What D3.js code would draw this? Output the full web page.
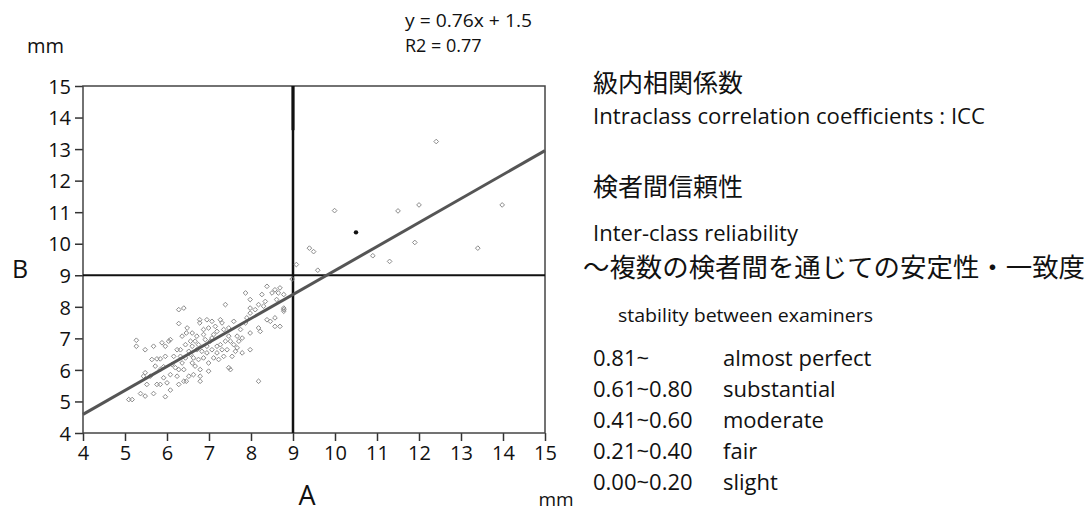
<!DOCTYPE html>
<html>
<head>
<meta charset="utf-8">
<script src="https://cdn.jsdelivr.net/npm/d3@7"></script>
<style>
  body { margin: 0; background: #fff; }
  svg { display: block; }
</style>
</head>
<body>
<svg id="chart" width="1090" height="515"></svg>
<script>
// ---- data ----
const xTicks = [4, 5, 6, 7, 8, 9, 10, 11, 12, 13, 14, 15];
const yTicks = [4, 5, 6, 7, 8, 9, 10, 11, 12, 13, 14, 15];
const refX = 9;
const refY = 9;
const fitSlope = 0.76;
const fitIntercept = 1.55;
const fitLabel = "y = 0.76x + 1.5";
const r2Label = "R2 = 0.77";

// A, B measurements (mm)
const pointsA = [
  5.27, 5.27, 5.48, 5.68, 5.88, 5.96, 6.04, 6.08, 5.64, 5.76, 5.84, 5.96, 5.72, 5.92, 5.48, 5.60,
  5.52, 5.76, 5.84, 6.00, 6.08, 5.37, 5.48, 5.68, 5.96, 5.09, 5.17, 5.84, 5.44,
  6.28, 6.40, 6.28, 6.48, 6.46, 6.36, 6.60, 6.71, 6.67, 6.60, 6.44, 6.32, 6.52, 6.32, 6.44, 6.63,
  6.60, 6.75, 6.67, 6.79, 6.20, 6.28, 6.40, 6.52, 6.63, 6.40, 6.46, 6.28, 6.79, 6.99,
  6.78, 6.78, 6.95, 7.07, 6.87, 6.99, 7.15, 7.27, 7.31, 7.19, 7.35, 7.47, 7.59, 6.91, 7.03, 6.95,
  7.07, 7.19, 7.27, 7.39, 7.47, 7.51, 7.59, 7.31, 7.19, 7.43, 6.95, 6.87, 6.83, 7.07, 7.39, 7.47,
  7.51, 7.67, 7.71, 7.79, 7.67, 7.79, 7.75, 7.87, 7.90, 7.87, 7.98, 7.98, 7.98, 7.98, 7.98, 8.18,
  8.22, 8.18, 8.26, 8.38, 8.34, 8.50, 8.57, 8.65, 8.69, 8.61, 8.38, 8.46, 8.57, 8.57, 8.69, 8.78,
  8.78, 8.18, 8.10, 8.30,
  6.75, 7.11, 7.23, 7.35, 6.99, 6.71, 6.56, 6.36, 6.16, 6.24, 7.63, 7.55, 7.11, 6.87, 6.56, 6.79,
  6.24, 6.08, 5.92, 6.12,
  8.78, 8.78, 8.98, 9.08, 9.59, 9.39, 9.49, 10.9, 11.3, 11.9, 13.4, 9.99, 11.5, 12.0, 13.98, 12.41
];
const pointsB = [
  6.94, 6.75, 6.64, 6.75, 6.86, 6.75, 6.91, 6.96, 6.33, 6.35, 6.35, 6.43, 6.12, 6.10, 5.91, 5.80,
  5.54, 5.54, 5.54, 5.59, 5.36, 5.25, 5.17, 5.25, 5.15, 5.06, 5.06, 6.01, 5.80,
  7.91, 7.96, 7.47, 7.33, 7.17, 7.07, 7.17, 7.07, 6.91, 6.75, 6.80, 6.64, 6.59, 6.43, 6.38, 6.38,
  6.22, 6.33, 6.12, 6.01, 6.07, 6.01, 6.01, 5.80, 5.85, 5.64, 5.64, 5.54, 5.64, 5.96,
  7.59, 7.49, 7.59, 7.54, 7.28, 7.33, 7.38, 7.59, 7.49, 7.22, 7.28, 7.33, 7.54, 6.96, 6.91, 6.75,
  6.64, 6.75, 6.80, 6.91, 7.07, 6.91, 6.80, 6.64, 6.54, 6.64, 6.54, 6.38, 6.59, 7.01, 8.07, 6.07,
  6.01, 7.07, 6.91, 7.01, 6.70, 6.54, 7.28, 7.49, 7.65, 8.44, 8.23, 7.96, 7.80, 7.17, 6.64, 7.33,
  7.22, 5.64, 8.39, 8.65, 8.17, 8.44, 8.54, 8.44, 8.60, 8.23, 7.59, 7.54, 7.65, 7.38, 7.38, 7.96,
  7.86, 8.07, 7.91, 8.02,
  6.80, 6.38, 6.33, 6.43, 6.22, 6.64, 6.49, 6.22, 6.43, 6.64, 6.59, 6.43, 7.12, 7.12, 6.91, 5.80,
  5.80, 5.85, 5.75, 6.17,
  7.91, 8.39, 8.88, 9.34, 9.16, 9.86, 9.75, 9.62, 9.44, 10.04, 9.86, 11.05, 11.04, 11.23, 11.23, 13.24
];
const highlightA = [10.5];
const highlightB = [10.36];

const headingICC = "級内相関係数";
const subICC = "Intraclass correlation coefficients : ICC";
const headingRel = "検者間信頼性";
const subRel = "Inter-class reliability";
const jpRel = "～複数の検者間を通じての安定性・一致度";
const enRel = "stability between examiners";
const iccRanges = ["0.81~", "0.61~0.80", "0.41~0.60", "0.21~0.40", "0.00~0.20"];
const iccLabels = ["almost perfect", "substantial", "moderate", "fair", "slight"];

// ---- layout ----
const plot = { left: 83, right: 545, top: 86, bottom: 433 };
const latin = "'Open Sans', 'Noto Sans', sans-serif";
const cjk = "'Noto Sans CJK JP', sans-serif";
const ink = "#111";

const svg = d3.select("#chart");
svg.append("rect").attr("width", 1090).attr("height", 515).attr("fill", "#fff");

const x = d3.scaleLinear().domain([4, 15]).range([plot.left, plot.right]);
const y = d3.scaleLinear().domain([4, 15]).range([plot.bottom, plot.top]);

// axes
const yAxis = d3.axisLeft(y).tickValues(yTicks).tickSize(8).tickPadding(4).tickFormat(d3.format("d"));
const xAxis = d3.axisBottom(x).tickValues(xTicks).tickSize(8).tickPadding(5).tickFormat(d3.format("d"));

const gy = svg.append("g").attr("transform", `translate(${plot.left},0)`).call(yAxis);
const gx = svg.append("g").attr("transform", `translate(0,${plot.bottom})`).call(xAxis);

[gx, gy].forEach(g => {
    g.select(".domain").remove();
    g.selectAll(".tick line").attr("stroke", "#333").attr("stroke-width", 1.5);
    g.selectAll(".tick text")
        .attr("fill", ink)
        .style("font-family", latin)
        .style("font-size", "20px");
});
gy.selectAll(".tick text").attr("dy", "0.36em");

// frame
svg.append("rect")
    .attr("x", plot.left).attr("y", plot.top)
    .attr("width", plot.right - plot.left).attr("height", plot.bottom - plot.top)
    .attr("fill", "none").attr("stroke", "#444").attr("stroke-width", 1.5);

// reference lines (upper stretch of the vertical one prints a bit heavier)
svg.append("line")
    .attr("x1", x(refX)).attr("x2", x(refX))
    .attr("y1", y(15)).attr("y2", y(4))
    .attr("stroke", "#111").attr("stroke-width", 2.5);
svg.append("line")
    .attr("x1", x(refX)).attr("x2", x(refX))
    .attr("y1", y(15)).attr("y2", y(13.6))
    .attr("stroke", "#111").attr("stroke-width", 3);
svg.append("line")
    .attr("x1", x(4)).attr("x2", x(15))
    .attr("y1", y(refY)).attr("y2", y(refY))
    .attr("stroke", "#111").attr("stroke-width", 2.2);

// scatter
const pts = pointsA.map((a, i) => ({ a, b: pointsB[i] }));
const marker = d3.symbol().type(d3.symbolDiamond2).size(14);
svg.append("g")
    .selectAll("path")
    .data(pts)
    .join("path")
    .attr("d", marker)
    .attr("transform", d => `translate(${x(d.a)},${y(d.b)})`)
    .attr("fill", "none")
    .attr("stroke", "#8a8a8a")
    .attr("stroke-width", 1);

svg.append("g")
    .selectAll("circle")
    .data(highlightA.map((a, i) => ({ a, b: highlightB[i] })))
    .join("circle")
    .attr("cx", d => x(d.a)).attr("cy", d => y(d.b))
    .attr("r", 2.2).attr("fill", "#111");

// fit line
const fitLine = d3.line().x(d => x(d)).y(d => y(fitSlope * d + fitIntercept));
svg.append("path")
    .attr("d", fitLine([4, 15]))
    .attr("fill", "none")
    .attr("stroke", "#555")
    .attr("stroke-width", 3);

// text helper
function txt(str, px, py, size, opts = {}) {
    const t = svg.append("text")
        .attr("x", px).attr("y", py)
        .attr("fill", ink)
        .attr("text-anchor", opts.anchor || "start")
        .style("font-family", opts.font || latin)
        .style("font-size", size + "px")
        .text(str);
    if (opts.width) t.attr("textLength", opts.width).attr("lengthAdjust", "spacingAndGlyphs");
    return t;
}

txt("mm", 27, 53, 20);
txt(fitLabel, 405, 27, 18, { width: 127 });
txt(r2Label, 405, 52, 18);
txt("A", 307, 505, 27, { anchor: "middle" });
txt("B", 20, 278, 25, { anchor: "middle" });
txt("mm", 556, 506, 19, { anchor: "middle" });

// right-hand notes
const notesX = 593;
txt(headingICC, notesX, 92, 25, { font: cjk, width: 150 });
txt(subICC, notesX, 124, 21, { width: 392 });
txt(headingRel, notesX, 196, 25, { font: cjk, width: 150 });
txt(subRel, notesX, 241, 21, { width: 205 });
txt(jpRel, 583, 277, 26, { font: cjk, width: 502 });
txt(enRel, 618, 322, 19, { width: 255 });

const rowBase = 366;
const rowStep = 31;
iccRanges.forEach((r, i) => {
    txt(r, notesX, rowBase + i * rowStep, 22);
    txt(iccLabels[i], 723, rowBase + i * rowStep, 22);
});
</script>
</body>
</html>
